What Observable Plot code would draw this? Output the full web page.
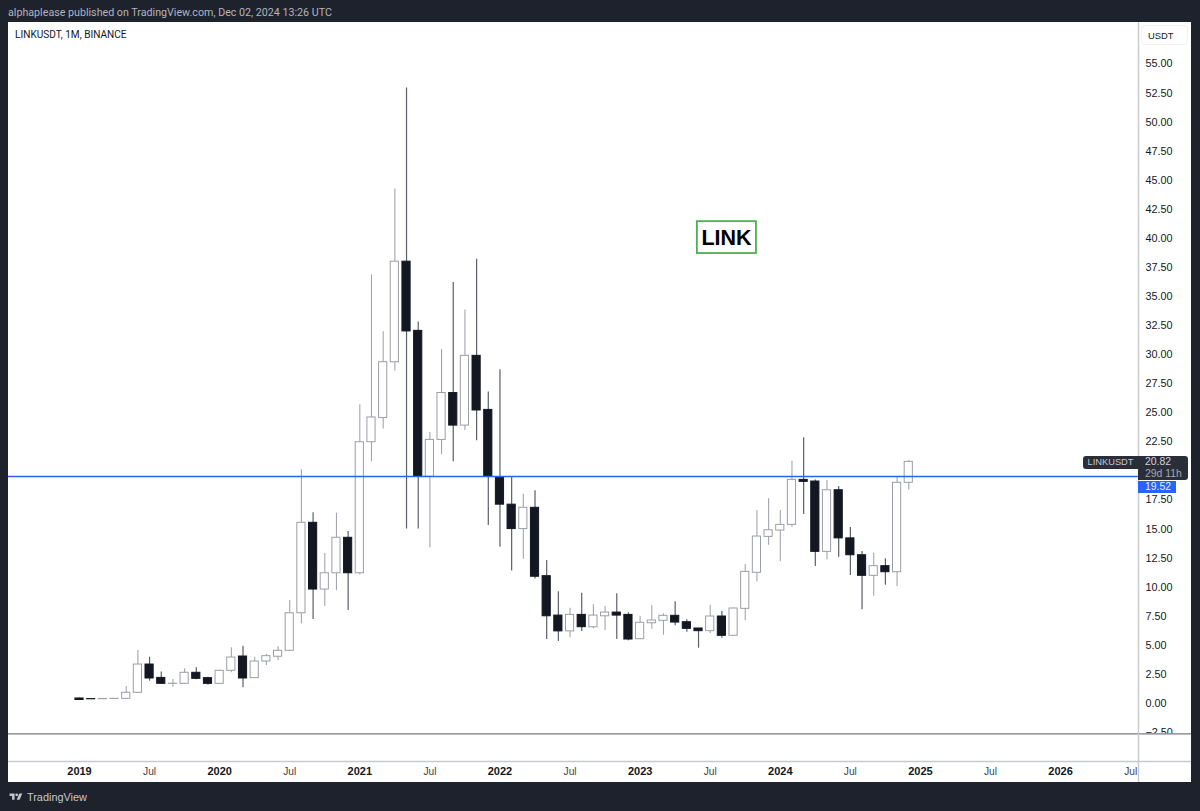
<!DOCTYPE html>
<html>
<head>
<meta charset="utf-8">
<script src="https://cdn.jsdelivr.net/npm/d3@7"></script>
<script src="https://cdn.jsdelivr.net/npm/@observablehq/plot@0.6"></script>
<style>
html,body{margin:0;padding:0;background:#1e222d;width:1200px;height:811px;overflow:hidden;font-family:"Liberation Sans",Arial,sans-serif}
#chart{position:absolute;left:8px;top:22px;width:1183px;height:760px;background:#fff;}
#chart svg{display:block;background:#fff;}
.abs{position:absolute;white-space:nowrap;}
#pub{left:8px;top:6px;font-family:Roboto,sans-serif;font-size:10.7px;color:#b2b5be;line-height:13px}
#sym{left:15px;top:27.5px;font-family:Roboto,sans-serif;font-size:10.1px;color:#131722;line-height:14px}
#usdt{left:1141px;top:25px;width:47px;height:20px;border:1px solid #f0f1f3;border-radius:4px;box-sizing:border-box;padding-left:6px;font-size:9.4px;color:#131722;line-height:19px}
.tag{background:#2a2e39;}
#tagname{left:1083px;top:456px;width:55px;height:13px;line-height:13px;text-align:center;border-radius:3px 0 0 3px;font-size:9.3px;color:#c4c7cf}
#tagprice{left:1138px;top:456px;width:50px;height:24px;padding-left:7px;box-sizing:border-box;border-radius:0 3px 3px 0;font-size:10.4px;line-height:12px;color:#d1d4dc}
#tagprice span{display:block;height:12px}
#tagprice .dim{color:#a6a9b2}
#tagline{left:1138px;top:481px;width:38px;height:12px;line-height:12px;padding-left:7px;box-sizing:border-box;background:#2962ff;color:#e8edff;font-size:10.4px}
#brand{left:27px;top:791px;font-size:10.9px;color:#c4c7cf;line-height:13px}
#logo{left:8px;top:792px}
</style>
</head>
<body>
<div id="pub" class="abs">alphaplease published on TradingView.com, Dec 02, 2024 13:26 UTC</div>
<div id="chart"></div>
<div id="sym" class="abs">LINKUSDT, 1M, BINANCE</div>
<div id="usdt" class="abs">USDT</div>
<div id="tagname" class="abs tag">LINKUSDT</div>
<div id="tagprice" class="abs tag"><span>20.82</span><span class="dim">29d 11h</span></div>
<div id="tagline" class="abs">19.52</div>
<svg id="logo" class="abs" width="16" height="10" viewBox="0 0 36 28"><path fill="#c4c7cf" d="M14 22H7V11H0V4h14v18zM28 22h-8l7.5-18h8L28 22z"/><circle cx="20" cy="8" r="4" fill="#c4c7cf"/></svg>
<div id="brand" class="abs">TradingView</div>
<script>
const opens  = [0.43,0.38,0.37,0.39,0.40,0.92,3.35,2.20,1.69,1.69,2.64,2.18,1.69,2.81,4.04,2.18,3.61,4.02,4.53,7.76,15.54,9.80,11.20,14.25,11.20,22.47,24.56,29.35,38.00,32.05,19.50,22.67,26.70,23.90,29.90,25.25,19.43,17.10,15.00,16.83,10.95,7.56,6.20,7.62,6.56,7.50,7.82,7.62,5.53,6.90,7.11,7.54,6.99,6.45,6.22,7.48,5.82,8.14,11.24,14.33,14.87,15.36,19.23,19.09,13.04,18.34,14.20,12.75,10.98,11.81,11.29,18.98];
const closes = [0.30,0.36,0.39,0.40,0.92,3.35,2.15,1.69,1.70,2.64,2.12,1.69,2.81,3.95,2.15,3.61,4.07,4.53,7.76,15.54,9.80,11.20,14.25,11.20,22.47,24.60,29.35,38.00,32.00,19.50,22.67,26.70,23.90,29.90,25.20,19.50,17.10,15.00,16.83,10.90,7.50,6.20,7.62,6.56,7.56,7.82,7.56,5.50,6.94,7.14,7.54,6.96,6.42,6.22,7.48,5.82,8.17,11.32,14.36,14.90,15.36,19.23,19.06,13.04,18.34,14.20,12.75,10.98,11.81,11.29,18.98,20.78];
const highs  = [0.47,0.39,0.38,0.41,1.46,4.55,3.98,2.70,2.06,2.98,3.07,2.26,2.85,4.79,4.93,3.98,4.24,4.88,8.86,20.10,16.40,12.90,16.36,14.80,25.70,36.86,31.98,44.25,52.94,32.80,23.30,30.44,36.20,33.85,38.20,26.80,28.70,19.45,18.00,18.30,12.30,9.60,8.20,9.48,8.50,8.34,9.43,7.80,7.48,8.40,7.71,8.74,7.20,6.45,8.45,7.91,8.20,11.95,16.60,17.60,16.60,20.83,22.85,19.23,19.17,18.66,15.13,13.07,12.92,12.44,19.46,20.87];
const lows   = [0.28,0.35,0.35,0.38,0.38,0.90,1.92,1.65,1.40,1.65,2.04,1.57,1.65,2.64,1.35,2.15,3.27,3.67,4.50,6.85,7.22,8.37,9.70,8.00,11.05,20.80,23.60,28.60,15.00,15.00,13.40,21.40,20.80,23.47,22.60,15.30,13.44,11.40,12.40,10.70,5.50,5.33,5.65,6.19,6.40,6.28,5.50,5.39,5.50,6.39,5.87,6.68,6.13,4.75,6.02,5.60,5.80,7.11,10.46,13.60,12.18,15.16,16.25,11.78,12.36,12.58,11.00,8.06,9.23,10.17,10.06,18.37];

const priceTicks = [-2.5,0,2.5,5,7.5,10,12.5,15,17.5,22.5,25,27.5,30,32.5,35,37.5,40,42.5,45,47.5,50,52.5,55];
const yearTicks  = [0,12,24,36,48,60,72,84];
const yearLabels = ["2019","2020","2021","2022","2023","2024","2025","2026"];
const julyTicks  = [6,18,30,42,54,66,78,90];
const levelPrice = [19.52];
const floorPrice = [-2.62];
const noteBoxX1 = [52.9], noteBoxX2 = [57.96], noteBoxY1 = [38.7], noteBoxY2 = [41.44];
const noteX = [55.4], noteY = [40.0], noteText = ["LINK"];
const halfBody = 0.35;
const xMin = -6.079, xPane = 90.67, xEnd = 95.21;
const yMin = -4.99, yMax = 58.57, yEnd = -6.8;

const candles = opens.map((o,i)=>({i,o,c:closes[i],h:highs[i],l:lows[i],up:closes[i]>=o}));
const up = candles.filter(d=>d.up), down = candles.filter(d=>!d.up);

const plot = Plot.plot({
  width:1183, height:760,
  marginTop:0, marginBottom:21, marginLeft:0, marginRight:53,
  style:{background:"#fff",fontFamily:"'Liberation Sans', Arial, sans-serif",fontSize:"11px",color:"#131722",overflow:"visible"},
  x:{type:"linear",domain:[xMin,xPane],axis:null},
  y:{type:"linear",domain:[yMin,yMax],axis:null},
  marks:[
    Plot.axisY({anchor:"right",ticks:priceTicks,tickSize:0,tickPadding:7,tickFormat:d3.format(".2f"),label:null,fontSize:10.8,fill:"#131722"}),
    Plot.rect([0],{x1:xMin,x2:xEnd,y1:yMin,y2:floorPrice[0],fill:"#fff"}),
    Plot.ruleY(floorPrice,{x1:xMin,x2:xEnd,stroke:"#787b86",strokeWidth:1.2}),
    Plot.ruleX(up,{x:"i",y1:"l",y2:"h",stroke:"#a3a5ad",strokeWidth:1.1}),
    Plot.ruleX(down,{x:"i",y1:"l",y2:"h",stroke:"#5c5f6a",strokeWidth:1.2}),
    Plot.rect(up,{x1:d=>d.i-halfBody,x2:d=>d.i+halfBody,y1:"o",y2:"c",fill:"#fff",stroke:"#9c9ea7",strokeWidth:1}),
    Plot.rect(down,{x1:d=>d.i-halfBody,x2:d=>d.i+halfBody,y1:"o",y2:"c",fill:"#131722",stroke:"#131722",strokeWidth:1}),
    Plot.ruleY(levelPrice,{stroke:"#2962ff",strokeWidth:1.6}),
    Plot.rect(noteBoxX1,{x1:noteBoxX1,x2:noteBoxX2,y1:noteBoxY1,y2:noteBoxY2,fill:"#fff",stroke:"#4caf50",strokeWidth:1.8}),
    Plot.text(noteText,{x:noteX,y:noteY,text:d=>d,fontSize:21.5,fontWeight:700,fill:"#000"}),
    Plot.axisX({anchor:"bottom",ticks:julyTicks,tickSize:0,tickPadding:6,tickFormat:()=> "Jul",label:null,fontSize:10.2,fill:"#3a3e48"}),
    Plot.axisX({anchor:"bottom",ticks:yearTicks,tickSize:0,tickPadding:6,tickFormat:d=>yearLabels[yearTicks.indexOf(d)],label:null,fontSize:11,fontWeight:700,fill:"#131722"}),
    Plot.ruleY([yMin],{x1:xMin,x2:xEnd,stroke:"#c8c9ce",strokeWidth:1.4}),
    Plot.ruleX([xPane],{y1:yEnd,y2:yMax,stroke:"#c8c9ce",strokeWidth:1.4})
  ]
});
document.getElementById("chart").appendChild(plot);
</script>
</body>
</html>
